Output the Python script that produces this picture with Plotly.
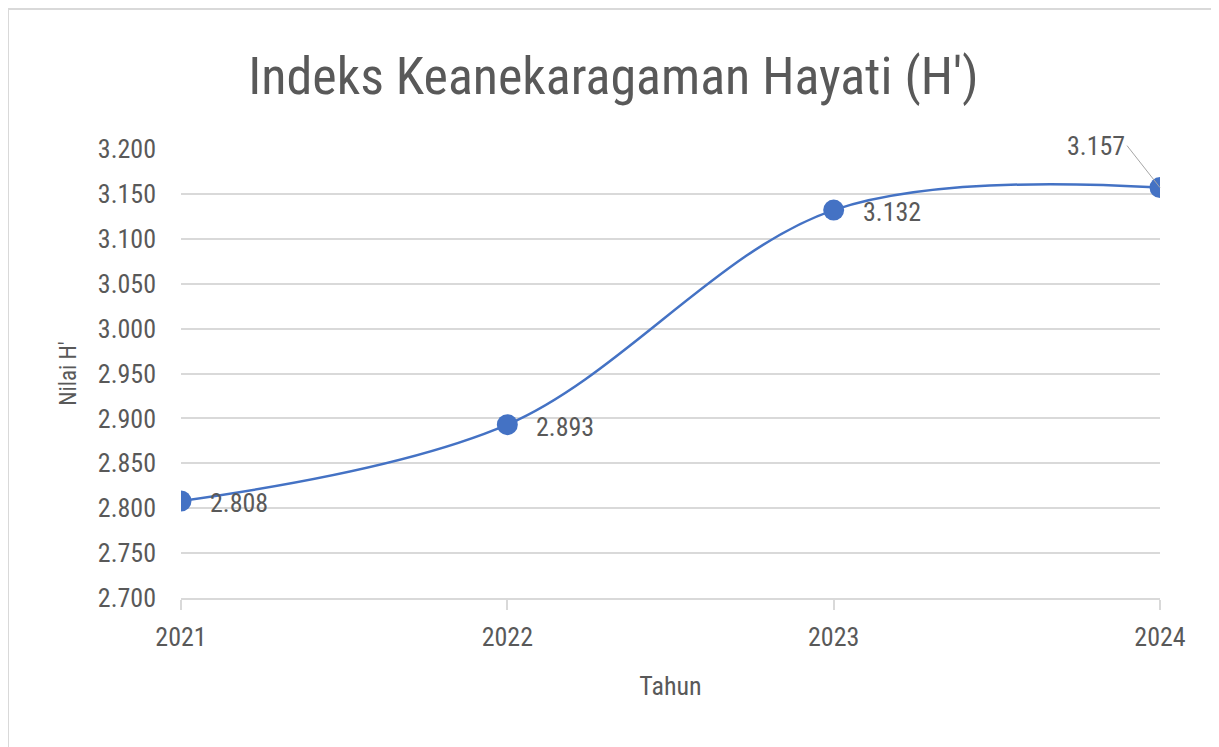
import plotly.graph_objects as go

years = [2021, 2022, 2023, 2024]
values = [2.808, 2.893, 3.132, 3.157]
labels = ["2.808", "2.893", "3.132", "3.157"]
y_ticks = [2.70, 2.75, 2.80, 2.85, 2.90, 2.95, 3.00, 3.05, 3.10, 3.15, 3.20]

FONT = "Roboto Condensed, Liberation Sans Narrow, Arial Narrow, sans-serif"
GRAY = "#595959"
BLUE = "#4472C4"

fig = go.Figure()
fig.add_trace(go.Scatter(
    x=years, y=values,
    mode="lines+markers",
    line=dict(shape="spline", smoothing=1.0, color=BLUE, width=2.5),
    marker=dict(size=21, color=BLUE),
    showlegend=False, hoverinfo="skip",
))
for xv, yv, t in zip(years[:3], values[:3], labels[:3]):
    fig.add_annotation(x=xv, y=yv, text=t, showarrow=False,
                       xanchor="left", yanchor="middle", xshift=27, yshift=-2,
                       font=dict(family=FONT, size=26, color=GRAY))
fig.add_annotation(
    x=years[3], y=values[3], text=labels[3],
    showarrow=True, arrowhead=0, arrowwidth=1, arrowcolor="#a6a6a6",
    ax=-33, ay=-42, xanchor="right", yanchor="middle",
    font=dict(family=FONT, size=26, color=GRAY),
)

# outer chart frame
fig.add_shape(type="rect", xref="paper", yref="paper",
              x0=-0.1767, x1=1.2, y0=-0.6, y1=1.312,
              line=dict(color="#d9d9d9", width=2), layer="below")

fig.update_layout(
    width=1211, height=739,
    margin=dict(l=173, r=59, t=141, b=149),
    paper_bgcolor="white", plot_bgcolor="white",
    font=dict(family=FONT, color=GRAY),
    title=dict(text="Indeks Keanekaragaman Hayati (H')", x=0.5, xanchor="center",
               y=1 - 68 / 739, yanchor="middle", yref="container",
               font=dict(family=FONT, size=52, color=GRAY)),
    xaxis=dict(range=[2021, 2024], tickvals=years, ticktext=[str(y) for y in years],
               showgrid=False, zeroline=False, showline=True, linecolor="#d9d9d9", linewidth=2,
               ticks="outside", ticklen=10, tickcolor="#d9d9d9", tickwidth=2,
               tickfont=dict(family=FONT, size=26, color=GRAY), ticklabelstandoff=5,
               title=dict(text="Tahun", font=dict(family=FONT, size=26, color=GRAY), standoff=26)),
    yaxis=dict(range=[2.70, 3.20], tickvals=y_ticks, tickformat=".3f",
               showgrid=True, gridcolor="#d9d9d9", gridwidth=2, zeroline=False,
               showline=False, ticks="",
               tickfont=dict(family=FONT, size=26, color=GRAY), ticklabelstandoff=24,
               title=dict(text="Nilai H'", font=dict(family=FONT, size=23, color=GRAY), standoff=14)),
)

fig.write_html("out.html")
